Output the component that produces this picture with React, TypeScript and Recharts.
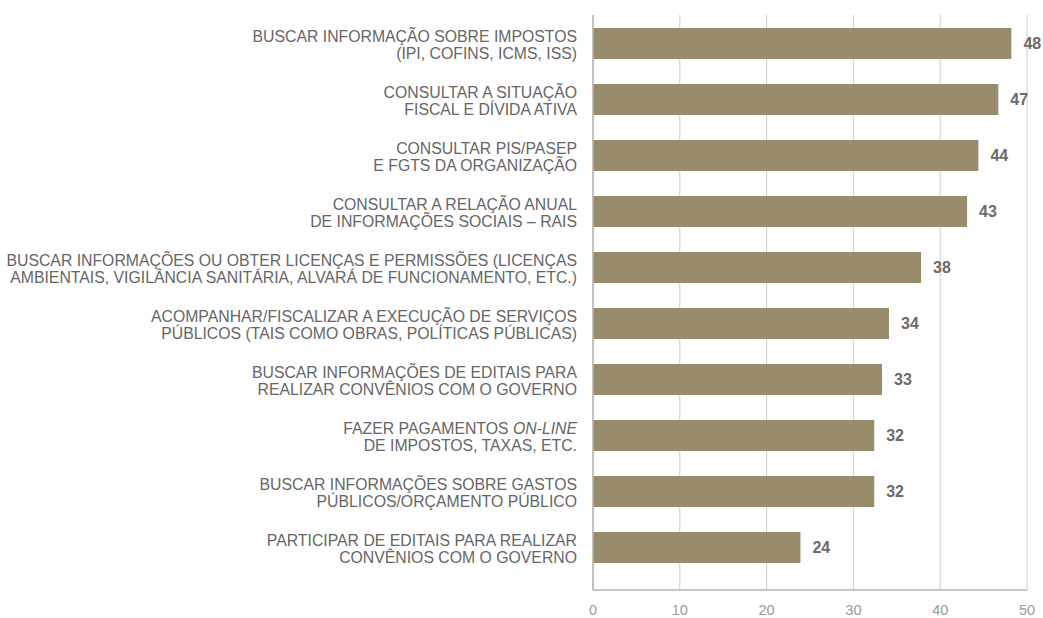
import { BarChart, Bar, XAxis, YAxis, CartesianGrid, LabelList } from "recharts"

if (typeof document !== "undefined") document.body.style.margin = "0"

// "|" separa linhas, "_" marca trecho em itálico
const categories = [
  "BUSCAR INFORMAÇÃO SOBRE IMPOSTOS|(IPI, COFINS, ICMS, ISS)",
  "CONSULTAR A SITUAÇÃO|FISCAL E DÍVIDA ATIVA",
  "CONSULTAR PIS/PASEP|E FGTS DA ORGANIZAÇÃO",
  "CONSULTAR A RELAÇÃO ANUAL|DE INFORMAÇÕES SOCIAIS – RAIS",
  "BUSCAR INFORMAÇÕES OU OBTER LICENÇAS E PERMISSÕES (LICENÇAS|AMBIENTAIS, VIGILÂNCIA SANITÁRIA, ALVARÁ DE FUNCIONAMENTO, ETC.)",
  "ACOMPANHAR/FISCALIZAR A EXECUÇÃO DE SERVIÇOS|PÚBLICOS (TAIS COMO OBRAS, POLÍTICAS PÚBLICAS)",
  "BUSCAR INFORMAÇÕES DE EDITAIS PARA|REALIZAR CONVÊNIOS COM O GOVERNO",
  "FAZER PAGAMENTOS _ON-LINE_|DE IMPOSTOS, TAXAS, ETC.",
  "BUSCAR INFORMAÇÕES SOBRE GASTOS|PÚBLICOS/ORÇAMENTO PÚBLICO",
  "PARTICIPAR DE EDITAIS PARA REALIZAR|CONVÊNIOS COM O GOVERNO",
]
const values = [48.2, 46.7, 44.4, 43.1, 37.8, 34.1, 33.3, 32.4, 32.4, 23.9]
const xTicks = [0, 10, 20, 30, 40, 50]

const data = categories.map((c, i) => ({ name: c, value: values[i] }))

const FONT = "'Liberation Sans', Arial, sans-serif"

function CategoryTick({ x, y, payload }: any) {
  const lines: string[] = String(payload.value).split("|")
  const lh = 17
  const start = -((lines.length - 1) * lh) / 2 + 7
  return (
    <text x={x - 8} y={y} textAnchor="end" fill="#666666" fontSize={15.8} fontFamily={FONT}>
      {lines.map((ln, i) => (
        <tspan key={i} x={x - 8} y={y + start + i * lh}>
          {ln.split("_").map((part, j) => (
            <tspan key={j} fontStyle={j % 2 === 1 ? "italic" : "normal"}>{part}</tspan>
          ))}
        </tspan>
      ))}
    </text>
  )
}

export default function App() {
  return (
    <div style={{ width: 1043, height: 618, background: "#fff" }}>
      <BarChart width={1043} height={618} data={data} layout="vertical" margin={{ top: 15, right: 16, bottom: 0, left: 0 }}>
        <CartesianGrid horizontal={false} stroke="#cccccc" />
        <XAxis
          type="number"
          domain={[0, 50]}
          ticks={xTicks}
          height={28}
          axisLine={{ stroke: "#b5b5b5", strokeWidth: 1.5 }}
          tickLine={false}
          tickMargin={9}
          tick={{ fill: "#9a9a9a", fontSize: 14.5, fontFamily: FONT }}
        />
        <YAxis
          type="category"
          dataKey="name"
          width={593}
          padding={{ top: 0, bottom: 15 }}
          axisLine={{ stroke: "#b5b5b5", strokeWidth: 1.5 }}
          tickLine={false}
          interval={0}
          tick={<CategoryTick />}
        />
        <Bar dataKey="value" fill="#998c6c" barSize={31} isAnimationActive={false}>
          <LabelList
            dataKey="value"
            position="right"
            offset={12}
            formatter={(v: any) => Math.round(Number(v))}
            fill="#6b6b6b"
            fontSize={16}
            fontWeight={700}
            fontFamily={FONT}
          />
        </Bar>
      </BarChart>
    </div>
  )
}
